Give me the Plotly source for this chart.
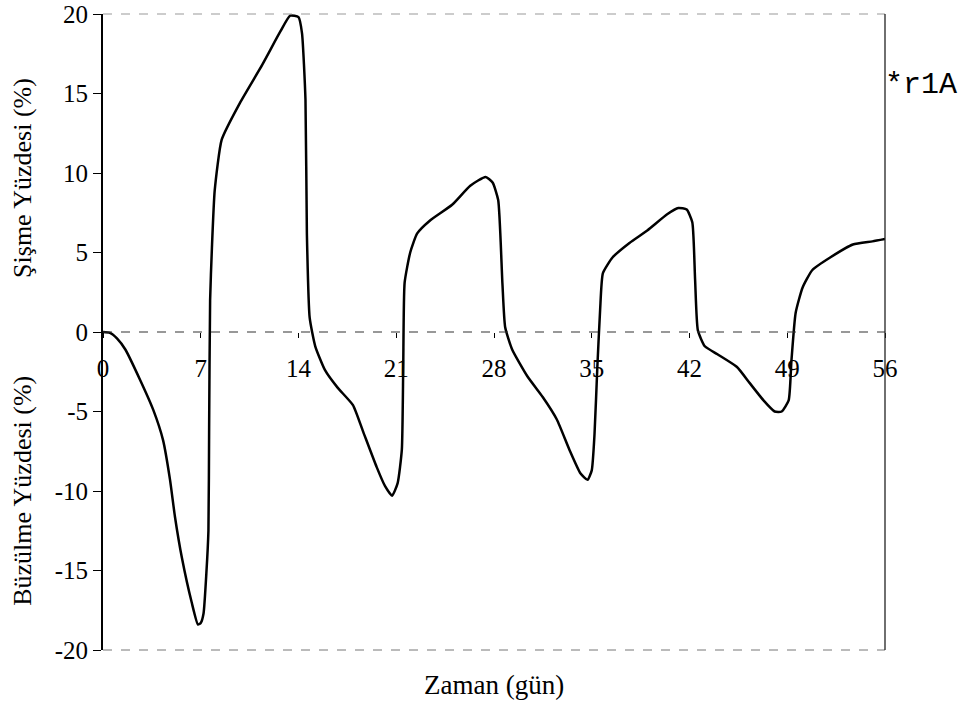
import plotly.graph_objects as go

# Time (days) and swell(+)/shrink(-) percentage
days = [0, 0.5, 1.0, 1.6, 2.65, 3.6, 4.3, 4.8, 5.15, 5.65, 6.35, 6.8, 7.0, 7.2, 7.4, 7.55, 7.6,
        7.67, 7.8, 8.0, 8.5, 9.8, 11.4, 12.7, 13.4, 14.0, 14.25, 14.5, 14.6, 14.8,
        15.2, 15.9, 16.8, 17.9, 18.6, 19.6, 20.2, 20.7, 21.1, 21.4, 21.5, 21.6, 22.0, 22.5,
        23.4, 25.0, 26.3, 27.4, 27.9, 28.3, 28.6, 28.8, 29.3, 30.4, 31.5, 32.5, 33.4, 34.2,
        34.7, 35.0, 35.2, 35.4, 35.6, 35.8, 36.5, 37.7, 39.0, 40.4, 41.2, 41.8, 42.2, 42.4,
        42.6, 43.1, 44.0, 45.4, 46.3, 47.3, 48.1, 48.6, 49.1, 49.3, 49.6, 50.1, 50.8, 52.1,
        53.7, 55.1, 56.0]
percent = [0, -0.05, -0.4, -1.1, -3.0, -4.9, -6.8, -9.3, -11.6, -14.2, -17.0, -18.4, -18.3, -17.7,
           -15.2, -12.5, -6.0,
           2.0, 5.3, 8.9, 12.1, 14.4, 16.8, 18.9, 19.9, 19.8, 18.8, 14.6, 6.2, 0.9,
           -0.9, -2.4, -3.5, -4.6, -6.2, -8.5, -9.7, -10.3, -9.5, -7.4, -2.2, 3.1, 5.0, 6.2,
           7.0, 8.0, 9.2, 9.75, 9.4, 8.3, 3.1, 0.3, -1.1, -2.8, -4.1, -5.5, -7.4, -8.9,
           -9.3, -8.7, -6.4, -2.2, 1.4, 3.7, 4.7, 5.6, 6.4, 7.4, 7.8, 7.7, 6.9, 3.3,
           0.1, -0.9, -1.4, -2.2, -3.2, -4.3, -5.0, -5.0, -4.3, -1.8, 1.2, 2.8, 3.9, 4.7,
           5.5, 5.7, 5.85]

x_ticks = [0, 7, 14, 21, 28, 35, 42, 49, 56]
y_ticks = [20, 15, 10, 5, 0, -5, -10, -15, -20]

serif = "Liberation Serif, Times New Roman, serif"

fig = go.Figure()
fig.add_trace(go.Scatter(x=days, y=percent, mode="lines",
                         line=dict(color="black", width=2.5, shape="spline", smoothing=0.5),
                         showlegend=False, hoverinfo="skip"))

fig.update_layout(
    width=965, height=706,
    margin=dict(l=103, r=80, t=14, b=56, autoexpand=False),
    paper_bgcolor="white", plot_bgcolor="white",
    font=dict(family=serif, color="black", size=25),
    xaxis=dict(range=[0, 56], tickvals=x_ticks, ticktext=[str(v) for v in x_ticks],
               anchor="free", position=0.5, showline=False, showgrid=False, zeroline=False,
               automargin=False, ticklabeloverflow="allow",
               ticks="outside", ticklen=5, tickwidth=1, tickcolor="black",
               ticklabelstandoff=9, tickfont=dict(family=serif, size=25)),
    yaxis=dict(range=[-20, 20], tickvals=y_ticks, ticktext=[str(v) for v in y_ticks],
               showline=True, linecolor="black", linewidth=2, showgrid=False, zeroline=False,
               automargin=False, ticklabeloverflow="allow",
               ticks="outside", ticklen=8, tickwidth=1, tickcolor="black",
               tickfont=dict(family=serif, size=25)),
    shapes=[
        dict(type="line", xref="paper", yref="y", x0=0, x1=1, y0=0, y1=0,
             line=dict(color="#333333", width=1.2, dash="dash")),
        dict(type="line", xref="paper", yref="paper", x0=0, x1=1, y0=1, y1=1,
             line=dict(color="#999999", width=1, dash="dash")),
        dict(type="line", xref="paper", yref="paper", x0=0, x1=1, y0=0, y1=0,
             line=dict(color="#777777", width=1, dash="dash")),
        dict(type="line", xref="paper", yref="paper", x0=1, x1=1, y0=0, y1=1,
             line=dict(color="#222222", width=1.3)),
    ],
    annotations=[
        dict(text="Şişme Yüzdesi (%)", xref="paper", yref="paper", x=-0.103, y=0.743,
             textangle=-90, showarrow=False, xanchor="center", yanchor="middle",
             font=dict(family=serif, size=26)),
        dict(text="Büzülme Yüzdesi (%)", xref="paper", yref="paper", x=-0.103, y=0.251,
             textangle=-90, showarrow=False, xanchor="center", yanchor="middle",
             font=dict(family=serif, size=26)),
        dict(text="Zaman (gün)", xref="paper", yref="paper", x=0.5, y=-0.055,
             showarrow=False, xanchor="center", yanchor="middle",
             font=dict(family=serif, size=27)),
        dict(text="*r1A", xref="paper", yref="paper", x=0.997, y=0.889,
             showarrow=False, xanchor="left", yanchor="middle",
             font=dict(family="Liberation Mono, Courier New, monospace", size=30)),
    ],
)

fig.write_html("out.html", config={"displayModeBar": False},
               post_script="document.body.style.margin='0';")
